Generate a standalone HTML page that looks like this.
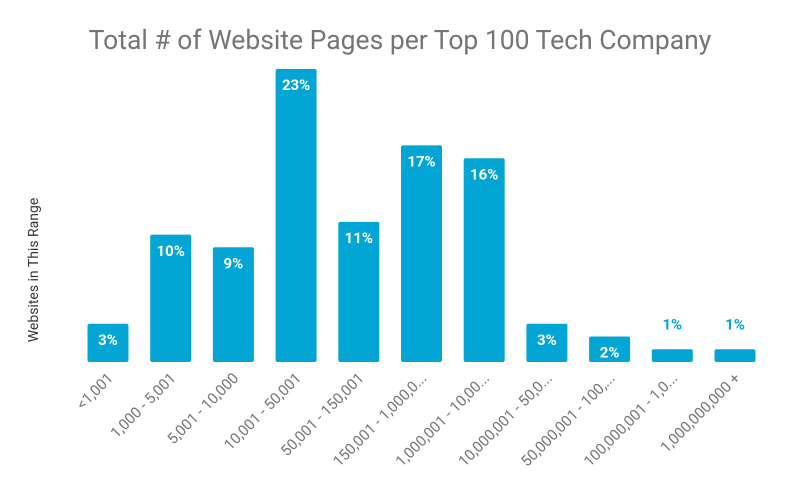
<!DOCTYPE html>
<html><head><style>body{margin:0;background:#fff}</style></head><body>
<svg width="800" height="495" xmlns="http://www.w3.org/2000/svg" font-family="Roboto, 'Liberation Sans', sans-serif">
<text x="400" y="49" text-anchor="middle" font-size="26.5" fill="#757575">Total # of Website Pages per Top 100 Tech Company</text>
<text transform="translate(38,270) rotate(-90)" text-anchor="middle" font-size="14" fill="#333">Websites in This Range</text>
<g fill="#03a5d5">
<rect x="87.5" y="323.8" width="41" height="38.2" rx="2"/>
<rect x="150.2" y="234.6" width="41" height="127.4" rx="2"/>
<rect x="212.9" y="247.3" width="41" height="114.7" rx="2"/>
<rect x="275.6" y="69" width="41" height="293" rx="2"/>
<rect x="338.3" y="221.9" width="41" height="140.1" rx="2"/>
<rect x="401" y="145.4" width="41" height="216.6" rx="2"/>
<rect x="463.7" y="158.2" width="41" height="203.8" rx="2"/>
<rect x="526.4" y="323.8" width="41" height="38.2" rx="2"/>
<rect x="589.1" y="336.5" width="41" height="25.5" rx="2"/>
<rect x="651.8" y="349.3" width="41" height="12.7" rx="2"/>
<rect x="714.5" y="349.3" width="41" height="12.7" rx="2"/>
</g>
<g font-size="15" font-weight="bold" fill="#fff" text-anchor="middle">
<text x="108" y="345">3%</text>
<text x="170.7" y="255.8">10%</text>
<text x="233.4" y="268.5">9%</text>
<text x="296.1" y="90.2">23%</text>
<text x="358.8" y="243.1">11%</text>
<text x="421.5" y="166.6">17%</text>
<text x="484.2" y="179.4">16%</text>
<text x="546.9" y="345">3%</text>
<text x="609.6" y="357.7">2%</text>
<text x="672.3" y="329.3" fill="#03a5d5">1%</text>
<text x="735" y="329.3" fill="#03a5d5">1%</text>
</g>
<g font-size="15" fill="#757575" text-anchor="end">
<text transform="translate(114,379) rotate(-45)">&lt;1,001</text>
<text transform="translate(176.7,379) rotate(-45)">1,000 - 5,001</text>
<text transform="translate(239.4,379) rotate(-45)">5,001 - 10,000</text>
<text transform="translate(302.1,379) rotate(-45)">10,001 - 50,001</text>
<text transform="translate(364.8,379) rotate(-45)">50,001 - 150,001</text>
<text transform="translate(427.5,379) rotate(-45)">150,001 - 1,000,0...</text>
<text transform="translate(490.2,379) rotate(-45)">1,000,001 - 10,00...</text>
<text transform="translate(552.9,379) rotate(-45)">10,000,001 - 50,0...</text>
<text transform="translate(615.6,379) rotate(-45)">50,000,001 - 100,...</text>
<text transform="translate(678.3,379) rotate(-45)">100,000,001 - 1,0...</text>
<text transform="translate(741,379) rotate(-45)">1,000,000,000 +</text>
</g>
</svg>
</body></html>
